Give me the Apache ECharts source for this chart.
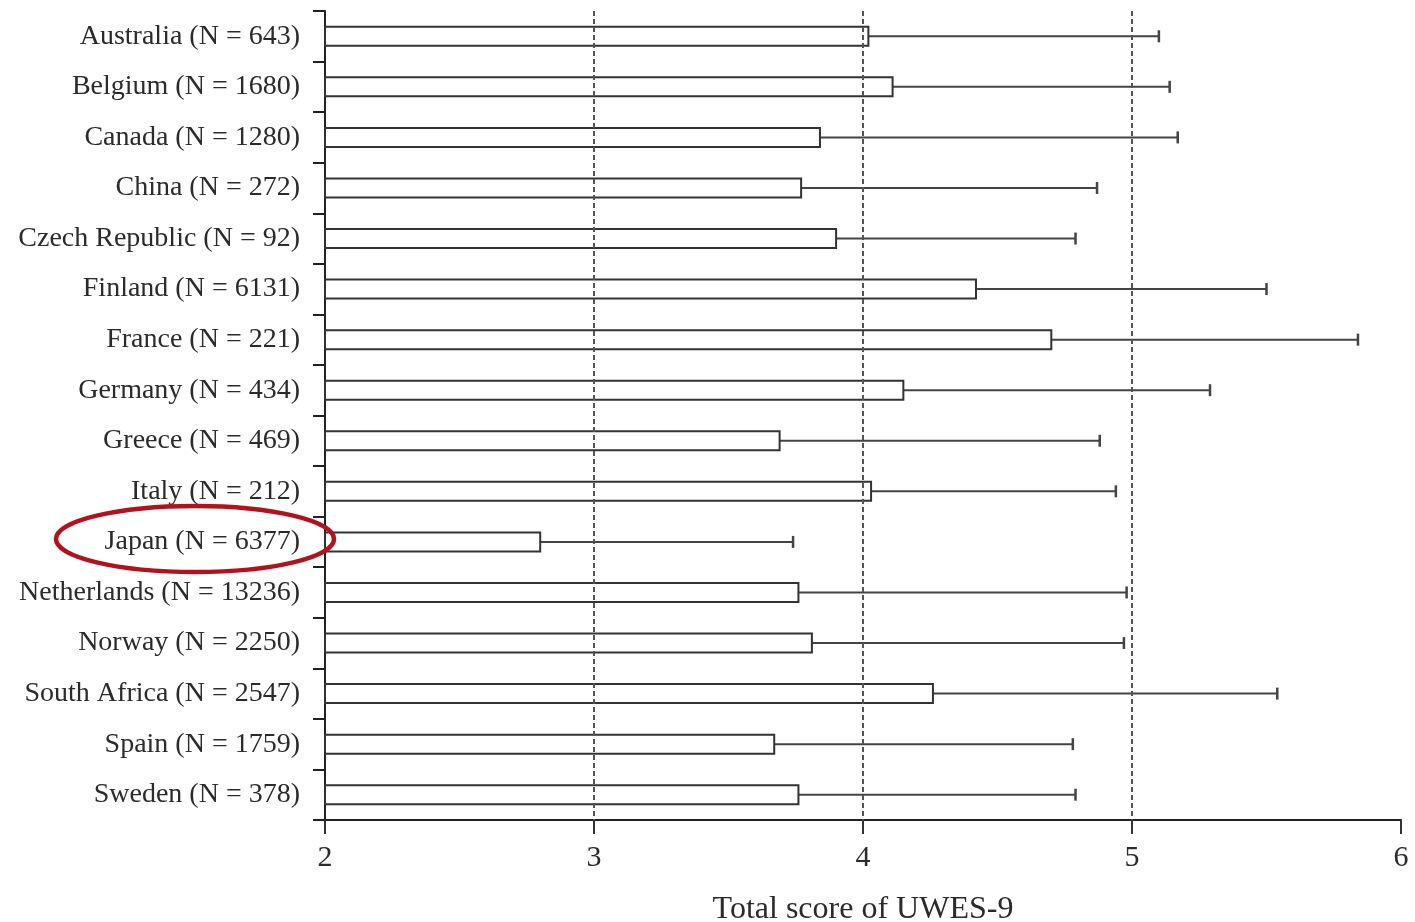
<!DOCTYPE html>
<html>
<head>
<meta charset="utf-8">
<script src="https://cdn.jsdelivr.net/npm/echarts@6/dist/echarts.min.js"></script>
<style>
  html, body { margin: 0; padding: 0; background: #fff; }
  #main { width: 1415px; height: 922px; }
</style>
</head>
<body>
<div id="main"></div>
<script>
// countries with sample sizes, top to bottom
var countries = [
  'Australia (N = 643)', 'Belgium (N = 1680)', 'Canada (N = 1280)', 'China (N = 272)',
  'Czech Republic (N = 92)', 'Finland (N = 6131)', 'France (N = 221)', 'Germany (N = 434)',
  'Greece (N = 469)', 'Italy (N = 212)', 'Japan (N = 6377)', 'Netherlands (N = 13236)',
  'Norway (N = 2250)', 'South Africa (N = 2547)', 'Spain (N = 1759)', 'Sweden (N = 378)'
];
// mean UWES-9 score
var means = [4.02, 4.11, 3.84, 3.77, 3.90, 4.42, 4.70, 4.15, 3.69, 4.03, 2.80, 3.76, 3.81, 4.26, 3.67, 3.76];
// mean + SD (end of error bar)
var upper = [5.10, 5.14, 5.17, 4.87, 4.79, 5.50, 5.84, 5.29, 4.88, 4.94, 3.74, 4.98, 4.97, 5.54, 4.78, 4.79];
var refLines = [3, 4, 5];
var xTicks = [2, 3, 4, 5, 6];

var font = 'Liberation Serif';
var ink = '#2b2b2b';

var chart = echarts.init(document.getElementById('main'));

var barData = means.map(function (v, i) { return [v, i]; });
var errData = means.map(function (v, i) { return [v, i, upper[i]]; });

chart.setOption({
  animation: false,
  backgroundColor: '#fff',
  grid: { left: 325, right: 14, top: 11, bottom: 102, outerBoundsMode: 'none', containLabel: false },
  xAxis: {
    type: 'value',
    min: xTicks[0],
    max: xTicks[xTicks.length - 1],
    interval: 1,
    name: 'Total score of UWES-9',
    nameLocation: 'middle',
    nameGap: 74,
    nameTextStyle: { fontFamily: font, fontSize: 32, color: ink },
    axisLine: { show: true, lineStyle: { color: '#222', width: 2 } },
    axisTick: { show: true, length: 14, lineStyle: { color: '#333', width: 2 } },
    axisLabel: { fontFamily: font, fontSize: 30, color: ink, margin: 23 },
    splitLine: { show: false }
  },
  yAxis: {
    type: 'category',
    data: countries,
    inverse: true,
    axisLine: { show: true, lineStyle: { color: '#222', width: 2 } },
    axisTick: { show: true, inside: false, length: 12, lineStyle: { color: '#222', width: 2 } },
    axisLabel: { fontFamily: font, fontSize: 28, color: ink, margin: 25 },
    splitLine: { show: false }
  },
  graphic: [{
    type: 'ellipse',
    shape: { cx: 195, cy: 539, rx: 139, ry: 33 },
    style: { fill: 'none', stroke: '#b3121c', lineWidth: 4.5 },
    z: 100
  }],
  series: [
    {
      type: 'line',
      data: [],
      z: 1,
      markLine: {
        silent: true,
        symbol: 'none',
        label: { show: false },
        lineStyle: { color: '#555', type: [5, 3], width: 2 },
        data: refLines.map(function (v) { return { xAxis: v }; })
      }
    },
    {
      type: 'custom',
      z: 3,
      data: errData,
      encode: { x: [0, 2], y: 1 },
      renderItem: function (params, api) {
        var idx = api.value(1);
        var start = api.coord([api.value(0), idx]);
        var end = api.coord([api.value(2), idx]);
        var cap = 6;
        return {
          type: 'group',
          children: [
            { type: 'line', shape: { x1: start[0], y1: start[1], x2: end[0], y2: end[1] },
              style: { stroke: '#444', lineWidth: 2 } },
            { type: 'line', shape: { x1: end[0], y1: end[1] - cap, x2: end[0], y2: end[1] + cap },
              style: { stroke: '#444', lineWidth: 2.5 } }
          ]
        };
      }
    },
    {
      type: 'custom',
      z: 4,
      data: barData,
      encode: { x: 0, y: 1 },
      renderItem: function (params, api) {
        var idx = api.value(1);
        var a = api.coord([xTicks[0], idx]);
        var b = api.coord([api.value(0), idx]);
        var h = api.size([0, 1])[1] * 0.375;
        return {
          type: 'rect',
          shape: { x: a[0], y: a[1] - h / 2, width: b[0] - a[0], height: h },
          style: { fill: '#fff', stroke: '#333', lineWidth: 2 }
        };
      }
    }
  ]
});
</script>
</body>
</html>
